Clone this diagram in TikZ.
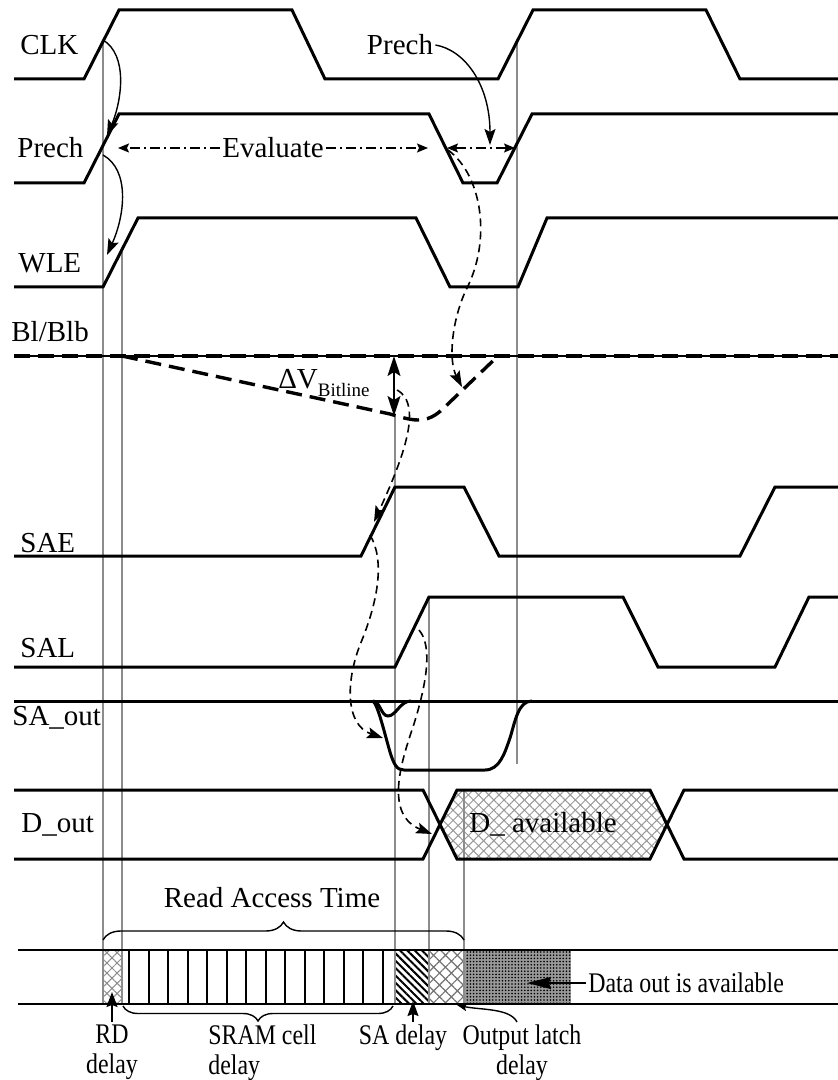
\documentclass[tikz,border=0pt]{standalone}
\usepackage{fontspec}
\setmainfont{Liberation Serif}
\newfontfamily\narrowserif[FakeStretch=0.84]{Liberation Serif}
\usetikzlibrary{arrows.meta, patterns, patterns.meta, decorations.pathreplacing, positioning}
\tikzstyle{timing}=[x=0.5pt, y=-0.5pt, font=\fontsize{14.5}{15}\selectfont,
                    >={Stealth[length=8pt, width=5.5pt, inset=1.5pt]}]
\tikzstyle{wave}=[line width=1.5pt]
\tikzstyle{guide}=[black!45, line width=0.6pt]
\tikzstyle{cause}=[->, line width=0.7pt]
\tikzstyle{causedash}=[cause, line width=0.8pt, dash pattern=on 4pt off 2.5pt]
\tikzstyle{bitline}=[line width=1.7pt, dash pattern=on 8pt off 4pt]
\tikzstyle{evalline}=[line width=0.7pt, >={Stealth[length=5.5pt, width=4.5pt, inset=1pt]},
                      dash pattern=on 5pt off 2pt on 1pt off 2pt]
\tikzstyle{siglabel}=[anchor=west, inner sep=0pt]
\tikzstyle{barlabel}=[anchor=north, inner sep=0pt, align=center,
                      font=\narrowserif\fontsize{14.2}{15}\selectfont]
\tikzstyle{bigbrace}=[decorate, line width=0.7pt]

\begin{document}
\begin{tikzpicture}[timing]
  \useasboundingbox (0,0) rectangle (838,1080);

  \fill[pattern={Hatch[angle=45, distance=3.6pt, line width=0.5pt]}, pattern color=black!40]
    (440,824.5) -- (457,790) -- (650,790) -- (667,824.5) -- (650,859) -- (457,859) -- cycle;
  \fill[pattern={Hatch[angle=45, distance=3.6pt, line width=0.5pt]}, pattern color=black!45]
    (103,950) rectangle (122,1004);
  \foreach \i in {0,...,13}
    \draw[line width=1pt] (129.3+19.5*\i,950) -- (129.3+19.5*\i,1004);
  \fill[pattern={Lines[angle=-45, distance=2.6pt, line width=1pt]}] (395,950) rectangle (429,1004);
  \fill[pattern={Hatch[angle=45, distance=4.2pt, line width=0.6pt]}, pattern color=black!55]
    (429,950) rectangle (464,1004);
  \fill[black!40] (464,950) rectangle (571,1004);
  \fill[pattern={Dots[distance=1.6pt, radius=0.45pt]}] (464,950) rectangle (571,1004);

  \draw[guide] (103,40) -- (103,1004);
  \draw[guide] (122,252) -- (122,1004);
  \draw[guide] (395,416) -- (395,1004);
  \draw[guide] (429,597) -- (429,1004);
  \draw[guide] (464,790) -- (464,1004);
  \draw[guide] (517,42) -- (517,764);

  \draw[line width=1pt] (18,950) -- (838,950);
  \draw[line width=1pt] (18,1004) -- (838,1004);

  \draw[wave] (14,79) -- (84,79) -- (119,10) -- (292,10) -- (325,79) -- (498,79)
    -- (533,10) -- (706,10) -- (740,79) -- (838,79);
  \draw[wave] (14,183) -- (84,183) -- (119,114) -- (429,114) -- (463,183) -- (497,183)
    -- (532,114) -- (838,114);
  \draw[wave] (14,287) -- (103,287) -- (138,218) -- (416,218) -- (450,287) -- (518,287)
    -- (547,218) -- (838,218);
  \draw[line width=0.6pt] (14,356) -- (838,356);
  \draw[bitline] (14,356) -- (838,356);
  \draw[bitline] (122,356) -- (390,414) .. controls (400,417) and (410,420) .. (418,420)
    .. controls (432,420) and (440,412) .. (450,402) -- (498,356);
  \draw[wave] (14,556) -- (361,556) -- (395,487) -- (464,487) -- (499,556) -- (740,556)
    -- (775,487) -- (838,487);
  \draw[wave] (14,667) -- (395,667) -- (429,597) -- (623,597) -- (658,667) -- (775,667)
    -- (809,597) -- (838,597);
  \draw[wave] (14,701) -- (838,701);
  \draw[wave] (373,701) .. controls (380,701) and (381,716) .. (388,716)
    .. controls (396,716) and (400,701) .. (411,701);
  \draw[wave] (373,701) .. controls (378,705) and (385,735) .. (390,752)
    .. controls (394,765) and (397,770) .. (404,770) -- (485,770)
    .. controls (500,770) and (505,752) .. (510,738)
    .. controls (515,722) and (518,701) .. (532,701);
  \draw[wave] (14,790) -- (423,790) -- (457,859) -- (650,859) -- (684,790) -- (838,790);
  \draw[wave] (14,859) -- (423,859) -- (457,790) -- (650,790) -- (684,859) -- (838,859);

  \node[siglabel] (clk) at (20,45) {CLK};
  \node[siglabel] (prech) at (17,148) {Prech};
  \node[siglabel] (wle) at (18,263) {WLE};
  \node[siglabel] (bl) at (11,332) {Bl/Blb};
  \node[siglabel] (sae) at (20,543) {SAE};
  \node[siglabel] (sal) at (20,648) {SAL};
  \node[siglabel] (saout) at (12,718) {SA\_out};
  \node[siglabel] (dout) at (21,825) {D\_out};
  \node (davail) at (543,824) {D\_ available};

  \node (prechtop) [inner sep=1pt] at (400,45) {Prech};
  \node (eval) [inner sep=1pt] at (273,148) {Evaluate};
  \node (dvlbl) [anchor=east, inner sep=1pt] at (372,383)
    {ΔV\raisebox{-0.6ex}{\fontsize{9.5}{10}\selectfont Bitline}};

  \coordinate (clkrise) at (103,40);
  \coordinate (prechin) at (107,136);
  \coordinate (prechout) at (103,155);
  \coordinate (wlein) at (107,255);
  \coordinate (evall) at (118,148);
  \coordinate (evalr) at (428,148);
  \coordinate (prechl) at (447,148);
  \coordinate (prechr) at (515,148);
  \coordinate (prechdip) at (490,145);
  \coordinate (prechfall) at (448,150);
  \coordinate (blrise) at (462,387);
  \coordinate (dvtop) at (394,356);
  \coordinate (dvbot) at (394,416);
  \coordinate (blmin) at (397,390);
  \coordinate (saein) at (374,522);
  \coordinate (saeout) at (370,535);
  \coordinate (saoutin) at (383,738);
  \coordinate (salrise) at (419,630);
  \coordinate (doutin) at (432,834);

  \draw[cause] (clkrise) .. controls (128,55) and (122,100) .. (prechin);
  \draw[cause] (prechout) .. controls (130,170) and (125,215) .. (wlein);
  \draw[evalline, ->] (eval.west) -- (evall);
  \draw[evalline, ->] (eval.east) -- (evalr);
  \draw[evalline, <->] (prechl) -- (prechr);
  \draw[cause] (prechtop.east) .. controls (465,50) and (490,85) .. (prechdip);
  \draw[causedash] (prechfall) .. controls (482,175) and (492,240) .. (466,290)
    .. controls (452,320) and (448,360) .. (blrise);
  \draw[<->, line width=0.8pt, >={Stealth[length=10pt, width=6.5pt, inset=2pt]}] (dvtop) -- (dvbot);
  \draw[causedash] (blmin) .. controls (425,405) and (400,465) .. (saein);
  \draw[causedash] (saeout) .. controls (385,560) and (378,600) .. (362,640)
    .. controls (345,680) and (345,725) .. (saoutin);
  \draw[causedash] (salrise) .. controls (432,645) and (428,680) .. (413,727)
    .. controls (400,765) and (385,815) .. (doutin);

  \node (rat) at (272,898) {Read Access Time};
  \draw[bigbrace, decoration={brace, amplitude=9pt}] (103,940) -- (464,940);
  \draw[bigbrace, decoration={brace, amplitude=7.5pt}] (393,1006) -- (123,1006);

  \node[barlabel] (rd) at (112,1024) {RD\\delay};
  \node[barlabel, align=left, anchor=north west] (sram) at (208,1024) {SRAM cell\\delay};
  \node[barlabel] (sad) at (403,1024) {SA delay};
  \node[barlabel] (old) at (522,1024) {Output latch\\delay};
  \node[barlabel, anchor=west] (doa) at (588,983) {Data out is available};

  \coordinate (rdtip) at (112,992);
  \coordinate (satip) at (413,1001);
  \coordinate (oldtip) at (457,1005);
  \coordinate (doatip) at (527,983);

  \draw[cause, >={Stealth[length=7.5pt, width=5.5pt, inset=1pt]}] ([yshift=1pt]rd.north) -- (rdtip);
  \draw[cause, >={Stealth[length=7.5pt, width=5.5pt, inset=1pt]}] ([yshift=1pt]satip |- sad.north) -- (satip);
  \draw[cause, >={Stealth[length=5pt, width=4pt, inset=1pt]}] ([xshift=-2.5pt, yshift=1pt]old.north)
    .. controls (510,1008) and (480,1010) .. (oldtip);
  \draw[cause, >={Stealth[length=12pt, width=6pt, inset=1pt]}] ([xshift=-1pt]doa.west) -- (doatip);
\end{tikzpicture}
\end{document}
